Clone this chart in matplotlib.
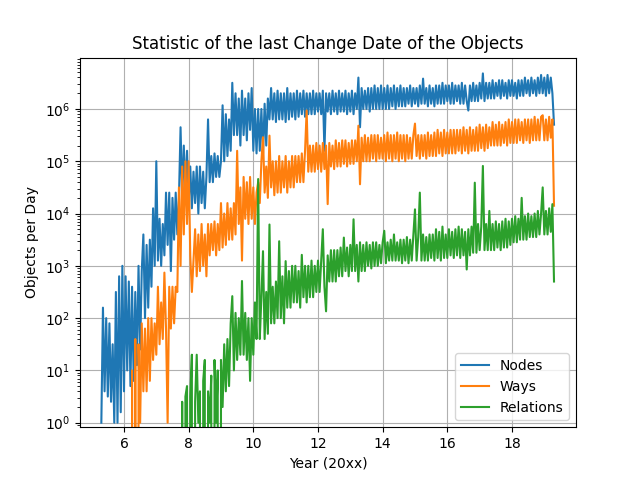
import numpy as np
import matplotlib
matplotlib.use("Agg")
import matplotlib.pyplot as plt

# objects per day, stored as log10 values, one sample every 0.05 year
# (-1 means no objects that day -> drawn below the axis)
step = 0.05

nodes_start = 5.30
nodes_log = [
    0.0, 2.2, 0.6, 2.0, 0.5, 1.9, 0.4, 1.5, 0.0, 2.5, 0.0, 2.8, 0.2, 3.0, 0.6, 2.8, 1.0, 2.7, 0.7, 2.6,
    0.8, 2.5, 1.1, 3.0, 1.4, 2.9, 3.6, 2.0, 3.4, 2.2, 3.5, 2.6, 4.1, 3.0, 5.0, 3.1, 3.9, 3.0, 3.8, 3.2,
    4.4, 3.4, 4.4, 2.9, 4.3, 3.5, 4.4, 3.6, 4.3, 5.65, 4.3, 5.3, 4.4, 5.2, 4.2, 4.9, 4.1, 4.8, 4.2, 4.9,
    4.0, 4.9, 4.2, 4.8, 4.1, 4.7, 5.8, 4.6, 5.1, 4.6, 5.15, 4.7, 5.1, 4.7, 5.0, 6.07, 5.0, 5.9, 5.1, 5.8,
    5.2, 6.5, 5.5, 6.3, 5.5, 6.2, 5.3, 6.35, 5.5, 6.2, 5.4, 6.3, 5.6, 6.4, 5.2, 6.0, 5.15, 6.0, 5.2, 6.0,
    5.15, 6.1, 5.3, 6.2, 5.8, 6.4, 5.8, 6.3, 5.75, 6.35, 5.8, 6.3, 5.8, 6.3, 5.75, 6.4, 5.8, 6.3, 5.85, 6.3,
    5.8, 6.35, 5.85, 6.3, 5.9, 6.35, 5.85, 6.3, 5.9, 6.3, 5.9, 6.35, 5.9, 6.3, 5.95, 6.3, 5.9, 6.35, 5.2, 6.3,
    5.95, 6.3, 5.9, 6.35, 5.95, 6.3, 5.9, 6.35, 5.95, 6.3, 5.95, 6.35, 5.9, 6.3, 5.95, 6.35, 5.9, 6.3, 6.0, 6.6,
    5.65, 6.4, 6.0, 6.35, 6.0, 6.4, 5.95, 6.4, 6.0, 6.45, 6.0, 6.4, 6.0, 6.45, 6.0, 6.4, 6.0, 6.45, 6.0, 6.4,
    6.05, 6.45, 6.0, 6.4, 6.05, 6.45, 6.05, 6.4, 6.05, 6.4, 6.1, 6.45, 6.05, 6.4, 6.1, 6.4, 6.05, 6.45, 6.1, 6.58,
    6.1, 6.4, 6.05, 6.45, 6.1, 6.4, 6.05, 6.45, 6.1, 6.45, 6.1, 6.5, 6.1, 6.45, 6.15, 6.45, 6.1, 6.5, 6.1, 6.45,
    6.15, 6.45, 6.1, 6.5, 6.1, 6.45, 6.15, 5.97, 6.45, 6.15, 6.5, 6.15, 6.45, 6.15, 6.5, 6.2, 6.68, 6.15, 6.5, 6.2,
    6.5, 6.2, 6.55, 6.2, 6.5, 6.25, 6.55, 6.2, 6.55, 6.25, 6.5, 6.2, 6.55, 6.25, 6.55, 6.25, 6.5, 6.2, 6.55, 6.25,
    6.55, 6.25, 6.6, 6.3, 6.55, 6.25, 6.6, 6.3, 6.55, 6.25, 6.6, 6.3, 6.65, 6.3, 6.6, 6.25, 6.65, 6.3, 6.6, 6.3,
    5.7,
]

ways_start = 6.20
ways_log = [
    -1, 1.0, -1, 1.6, -1, 1.5, 0.0, 1.9, 0.6, 1.8, 0.6, 2.0, 0.8, 2.0, 1.2, 1.9, 1.3, 2.6, 1.5, 2.3,
    1.6, 2.87, 1.8, 0.0, 2.6, 1.8, 2.6, 1.9, 2.6, 2.5, 4.5, 3.0, 4.9, 3.6, 5.0, 3.8, 5.0, 3.2, 2.5, 3.1,
    3.7, 2.8, 3.6, 2.9, 3.8, 3.0, 3.6, 2.8, 3.8, 3.2, 3.8, 3.3, 3.85, 3.2, 3.8, 3.3, 4.2, 3.35, 4.0, 3.4,
    4.2, 3.5, 4.1, 3.5, 4.2, 3.6, 5.2, 3.8, 4.5, 3.1, 4.7, 3.9, 4.6, 3.8, 4.7, 3.9, 4.5, 3.8, 4.4, 4.6,
    4.2, 5.0, 5.46, 4.4, 4.9, 4.3, 5.49, 4.5, 5.0, 4.35, 5.0, 4.4, 5.1, 4.4, 5.0, 4.5, 5.1, 4.4, 5.0, 4.5,
    5.1, 4.5, 5.1, 4.6, 5.1, 4.6, 5.15, 4.6, 5.2, 5.97, 4.8, 5.3, 4.8, 5.3, 4.8, 5.35, 4.85, 5.3, 4.8, 5.35,
    4.85, 5.3, 4.18, 5.35, 4.9, 5.3, 4.85, 5.4, 4.9, 5.35, 4.9, 5.4, 4.95, 5.4, 4.9, 5.35, 4.95, 5.4, 4.95, 5.4,
    5.0, 5.68, 4.56, 5.45, 5.0, 5.5, 5.0, 5.45, 5.0, 5.5, 5.05, 5.5, 5.0, 5.5, 5.05, 5.45, 5.05, 5.5, 5.0, 5.55,
    5.05, 5.5, 5.0, 5.5, 5.05, 5.55, 5.0, 5.5, 5.05, 5.5, 5.0, 5.5, 5.05, 5.45, 5.05, 5.5, 5.72, 5.1, 5.5, 5.05,
    5.5, 5.1, 5.5, 5.05, 5.55, 5.1, 5.5, 5.1, 5.55, 5.1, 5.6, 5.15, 5.55, 5.1, 5.6, 5.15, 5.55, 5.15, 5.6, 5.15,
    5.6, 5.15, 5.6, 5.2, 5.6, 5.15, 5.65, 5.2, 5.6, 5.15, 5.65, 5.2, 5.6, 5.2, 5.65, 5.2, 5.7, 5.25, 5.65, 5.2,
    5.7, 5.25, 5.65, 5.3, 5.75, 5.3, 5.7, 5.3, 5.75, 5.3, 5.7, 5.35, 5.75, 5.3, 5.8, 5.35, 5.75, 5.35, 5.8, 5.35,
    5.8, 5.4, 5.75, 5.35, 5.8, 5.4, 5.8, 5.35, 5.8, 5.4, 5.85, 5.4, 5.8, 5.4, 5.85, 5.88, 5.4, 5.8, 5.4, 5.85,
    5.45, 5.8, 4.15,
]

relations_start = 7.75
relations_log = [
    -1, 0.4, -1, 0.5, 0.7, -1, 0.5, 1.3, -1, 0.4, 1.3, 0.0, 0.6, -1, 0.8, 1.2, -1, 0.6, 0.0, 0.9,
    -1, 1.2, 0.0, 1.0, -1, 1.2, 0.3, 1.5, 0.6, 1.6, 0.7, 1.9, 2.42, 1.0, 2.1, 1.2, 2.0, 1.3, 2.71, 1.3,
    2.1, 1.2, 2.0, 0.8, 2.0, 1.3, 2.3, 1.6, 4.66, 1.6, 2.4, 3.28, 1.6, 2.5, 1.7, 3.79, 1.9, 2.6, 1.9, 2.7,
    2.0, 3.47, 2.0, 2.8, 1.9, 3.09, 2.2, 2.9, 2.2, 3.0, 2.3, 3.0, 2.3, 2.9, 2.2, 3.21, 2.4, 3.0, 2.3, 3.0,
    2.4, 3.1, 2.4, 3.0, 2.5, 3.1, 2.5, 3.1, 3.7, 2.6, 2.13, 3.2, 2.7, 3.3, 2.7, 3.3, 2.7, 3.3, 2.8, 3.35,
    2.8, 3.54, 2.9, 3.35, 2.8, 3.4, 2.9, 3.89, 2.9, 3.4, 2.7, 3.45, 2.9, 3.4, 2.9, 3.45, 3.0, 3.4, 2.95, 3.45,
    3.0, 3.45, 3.0, 3.4, 3.05, 3.45, 3.67, 3.05, 3.45, 3.1, 3.5, 3.1, 3.6, 3.1, 3.45, 3.1, 3.5, 3.05, 3.5, 3.1,
    3.55, 3.05, 3.5, 3.1, 3.6, 4.08, 3.1, 3.55, 4.4, 3.1, 3.6, 3.1, 3.55, 3.1, 3.6, 3.15, 3.6, 3.1, 3.7, 3.15,
    3.65, 3.1, 3.75, 3.15, 3.6, 3.15, 3.7, 3.2, 3.65, 3.15, 3.7, 3.2, 3.75, 3.15, 3.7, 3.2, 3.65, 2.93, 3.7, 3.2,
    3.75, 3.25, 4.59, 3.25, 3.8, 3.3, 3.75, 4.91, 3.3, 3.8, 3.3, 4.05, 3.3, 3.8, 3.3, 3.85, 3.35, 3.8, 3.3, 3.85,
    3.35, 3.9, 3.35, 3.85, 3.4, 3.9, 3.45, 3.95, 3.45, 3.9, 3.5, 4.3, 3.5, 3.95, 3.5, 4.0, 3.55, 3.95, 3.55, 4.0,
    3.55, 4.05, 3.6, 4.0, 4.5, 3.6, 4.05, 3.6, 4.1, 3.65, 4.18, 2.7,
]

series = [
    ("Nodes", nodes_start, nodes_log),
    ("Ways", ways_start, ways_log),
    ("Relations", relations_start, relations_log),
]

fig, ax = plt.subplots(figsize=(6.4, 4.8), dpi=100)

for label, start, logs in series:
    logs = np.array(logs)
    years = start + step * np.arange(len(logs))
    counts = np.where(logs < 0, 0, 10.0 ** logs)
    ax.plot(years, counts, label=label)

ax.set_yscale("log")
ax.set_xlim(4.64, 19.98)
ax.set_ylim(0.82, 9.6e6)
ax.set_title("Statistic of the last Change Date of the Objects")
ax.set_xlabel("Year (20xx)")
ax.set_ylabel("Objects per Day")
ax.grid(True)
ax.legend(loc="lower right")

fig.savefig("out.png")
